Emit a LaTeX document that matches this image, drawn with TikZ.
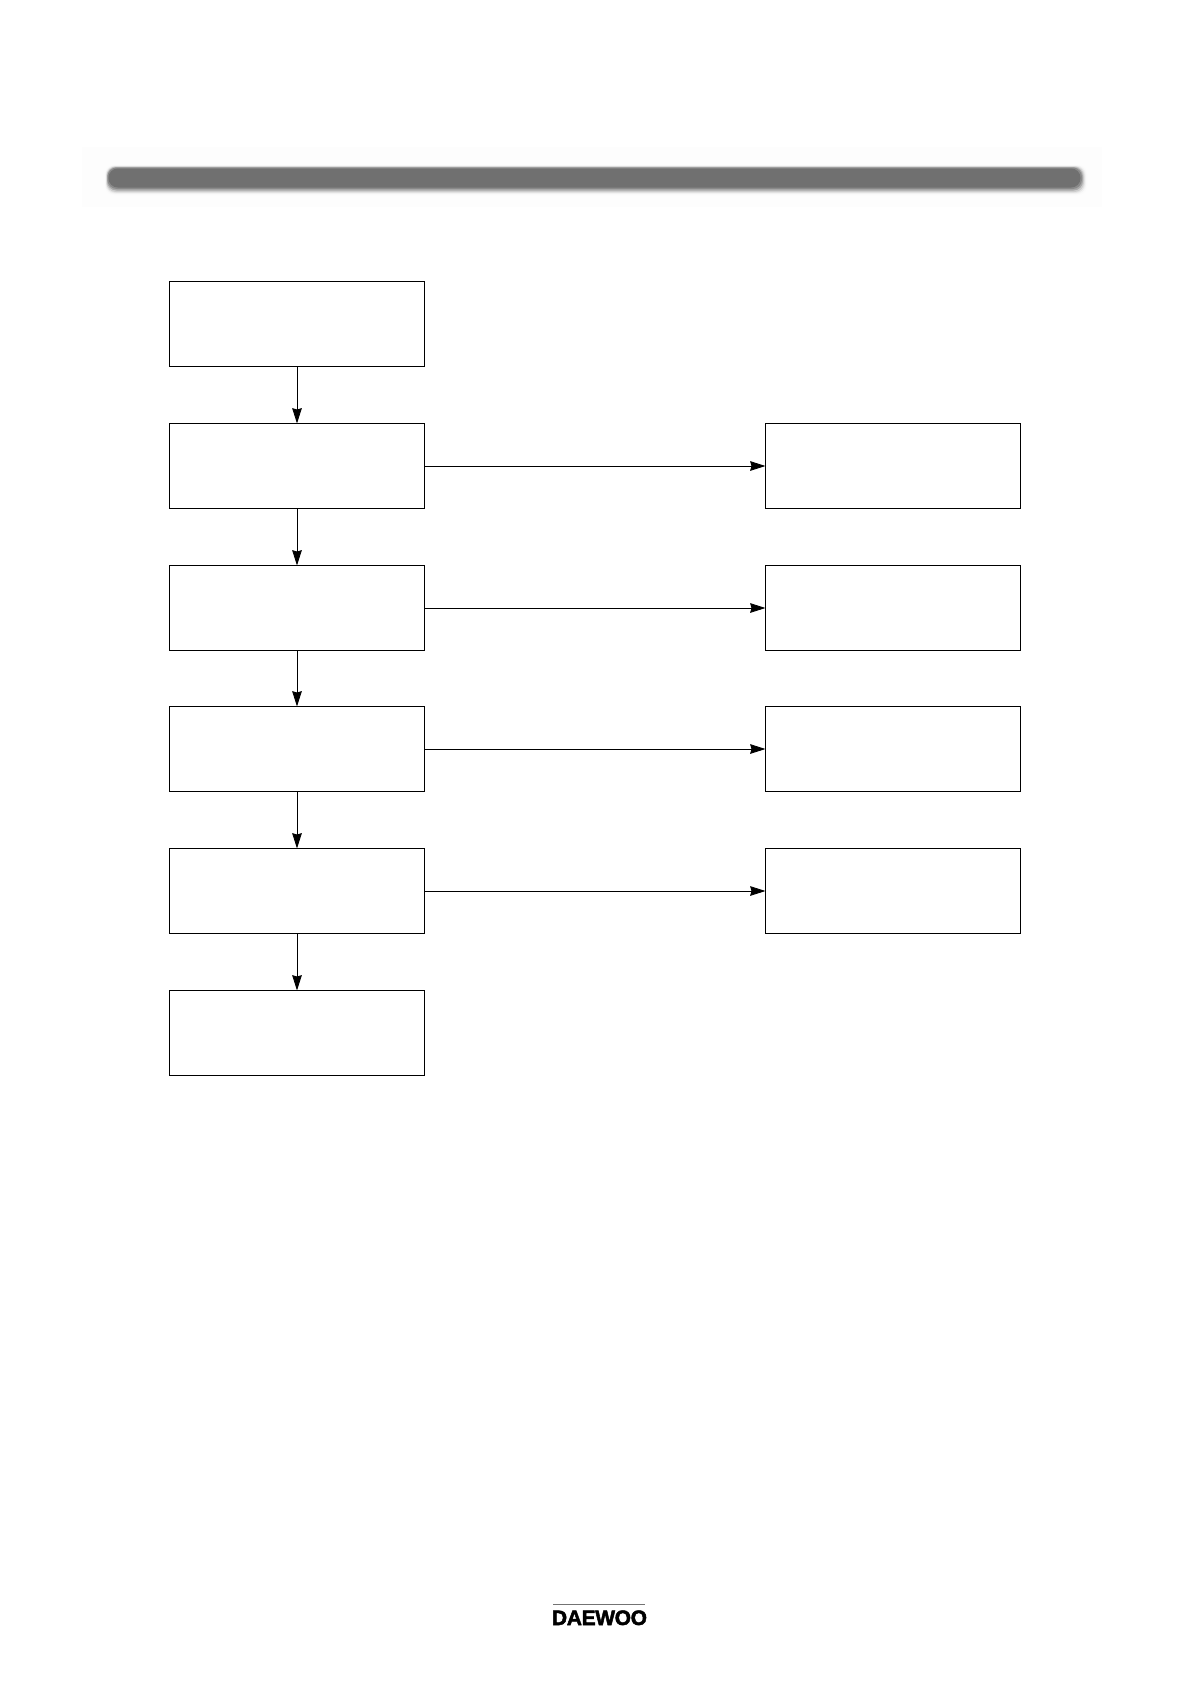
\documentclass[tikz,border=0pt]{standalone}
\usepackage{fontspec}
\setmainfont{Liberation Sans}
\newfontfamily\logofont[FakeBold=2.2,LetterSpace=-1.5]{Liberation Sans Bold}
\usetikzlibrary{arrows.meta,positioning}
\definecolor{barcol}{HTML}{707070}
\definecolor{halo}{HTML}{FDFDFD}
\tikzset{
  flowbox/.style={draw=black,line width=0.8pt,fill=white,rectangle,outer sep=0pt,inner sep=0pt,
    minimum width=191.25pt,minimum height=63.75pt,anchor=north west},
  flowline/.style={draw=black,line width=0.6pt,-{Stealth[length=11.5pt,width=7.2pt,inset=1pt]}},
  barhalo/.style={rounded corners=7pt},
}
\begin{document}
\begin{tikzpicture}[x=0.75pt,y=-0.75pt]
\useasboundingbox (0,0) rectangle (1190,1682);
\fill[white] (0,0) rectangle (1190,1682);
% faint halo behind the title bar
\fill[halo] (82,147) rectangle (1102,207);
% title bar with soft edge, heavier towards the lower right
\fill[barcol!3!white,barhalo]  (105,165) rectangle (1087,195);
\fill[barcol!8!white,barhalo]  (105.5,165.5) rectangle (1086,194);
\fill[barcol!18!white,barhalo] (106,166) rectangle (1085,193);
\fill[barcol!35!white,barhalo] (106.5,166.5) rectangle (1084,192);
\fill[barcol!60!white,barhalo] (107,167) rectangle (1083,190.5);
\fill[barcol!82!white,barhalo] (107.5,167.5) rectangle (1082,189);
\fill[barcol,barhalo] (108.5,168.5) rectangle (1080.5,187.5);
% boxes
\node[flowbox] (a1) at (169.5,281.5) {};
\node[flowbox] (a2) at (169.5,423.5) {};
\node[flowbox] (a3) at (169.5,565.5) {};
\node[flowbox] (a4) at (169.5,706.5) {};
\node[flowbox] (a5) at (169.5,848.5) {};
\node[flowbox] (a6) at (169.5,990.5) {};
\node[flowbox] (b2) at (765.5,423.5) {};
\node[flowbox] (b3) at (765.5,565.5) {};
\node[flowbox] (b4) at (765.5,706.5) {};
\node[flowbox] (b5) at (765.5,848.5) {};
% connectors
\draw[flowline] (a1.south) -- (a2.north);
\draw[flowline] (a2.south) -- (a3.north);
\draw[flowline] (a3.south) -- (a4.north);
\draw[flowline] (a4.south) -- (a5.north);
\draw[flowline] (a5.south) -- (a6.north);
\draw[flowline] (a2.east) -- (b2.west);
\draw[flowline] (a3.east) -- (b3.west);
\draw[flowline] (a4.east) -- (b4.west);
\draw[flowline] (a5.east) -- (b5.west);
% logo
\draw[black!55,line width=0.6pt] (553,1604) -- (645,1604);
\node[inner sep=0pt,anchor=base,font=\logofont\fontsize{15.7}{16}\selectfont] (logo) at (599.5,1625) {DAEWOO};
\end{tikzpicture}
\end{document}
